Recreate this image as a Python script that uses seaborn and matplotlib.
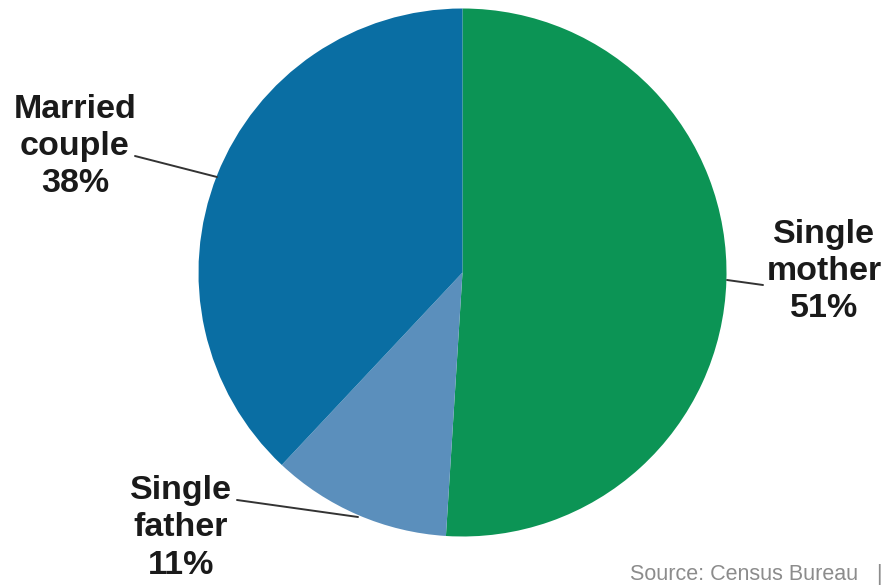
import matplotlib
matplotlib.use("Agg")
import matplotlib.pyplot as plt
import seaborn as sns

sns.set_theme(style="white")
plt.rcParams['font.family'] = ['Liberation Sans', 'DejaVu Sans']

categories = ["Single mother", "Single father", "Married couple"]
values = [51, 11, 38]
labels = ["Single\nmother\n51%", "Single\nfather\n11%", "Married\ncouple\n38%"]
colors = ["#0c9455", "#5b8fbc", "#0a6ea3"]

W, H = 887, 586
fig = plt.figure(figsize=(W / 100, H / 100), dpi=100)
ax = fig.add_axes([0, 0, 1, 1])

cx, cy, r = 462.5, H - 272.5, 264
ax.pie(values, colors=colors, startangle=90, counterclock=False,
       center=(cx, cy), radius=r, wedgeprops=dict(linewidth=0))
ax.set_xlim(0, W)
ax.set_ylim(0, H)
ax.set_aspect('equal')
ax.axis('off')

# labels (pixel coords from top)
label_pos = {"Single mother": (824, 271), "Single father": (181, 528), "Married couple": (75, 146)}
for cat, lab in zip(categories, labels):
    x, y = label_pos[cat]
    ax.text(x, H - y, lab, ha='center', va='center', fontsize=24.5, fontweight='bold',
            color='#1a1a1a', linespacing=1.25)

leaders = [((727, 280), (763, 285)), ((237, 500), (358, 517)), ((135, 156), (217, 177))]
for (x1, y1), (x2, y2) in leaders:
    ax.plot([x1, x2], [H - y1, H - y2], color='#333333', lw=1.4)

ax.text(858, H - 575, "Source: Census Bureau", ha='right', va='center', fontsize=15.5,
        color='#8c8c8c')
ax.text(879, H - 575, "|", ha='center', va='center', fontsize=15.5, color='#8c8c8c')

fig.savefig("out.png", dpi=100)
